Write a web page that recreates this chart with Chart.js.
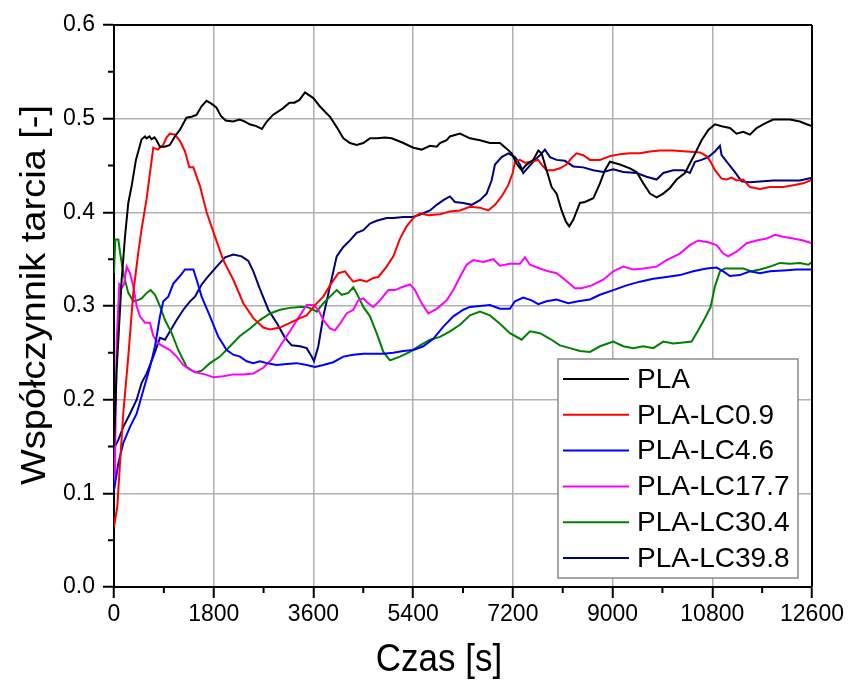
<!DOCTYPE html>
<html lang="pl">
<head>
    <meta charset="UTF-8">
    <title>Współczynnik tarcia</title>
    <script src="https://cdn.jsdelivr.net/npm/chart.js@4/dist/chart.umd.min.js"></script>
    <style>
        body{
            margin: 0;
            background: #ffffff;
        }
        .wykres{
            width: 849px;
            height: 682px;
        }
    </style>
</head>
<body>
    <div class="wykres">
        <canvas id="miCanvas"></canvas>
    </div>
    <script>
        // czas [s] i współczynnik tarcia dla każdej próbki
        const czasPLA = [0,30,48,138,200,258,318,396,498,560,588,640,678,730,768,828,918,1008,1098,1188,1308,1400,1488,1578,1668,1758,1848,1930,2016,2148,2268,2358,2448,2568,2670,2748,2868,3048,3168,3258,3348,3448,3598,3718,3899,4020,4140,4260,4380,4500,4621,4741,4892,5012,5102,5223,5403,5554,5704,5825,5884,6005,6064,6245,6425,6606,6786,6967,7087,7178,7268,7358,7448,7569,7659,7719,7809,7900,7990,8080,8158,8218,8291,8411,8501,8652,8772,8862,8953,9133,9313,9434,9554,9675,9795,9915,10036,10156,10306,10457,10607,10728,10848,10968,11118,11239,11359,11480,11600,11751,11901,12202,12382,12503,12600];
        const tarciePLA = [0.15,0.2,0.232,0.328,0.375,0.41,0.428,0.456,0.478,0.481,0.479,0.481,0.478,0.48,0.477,0.47,0.47,0.472,0.481,0.488,0.501,0.502,0.504,0.513,0.519,0.516,0.512,0.503,0.498,0.497,0.499,0.497,0.494,0.492,0.489,0.496,0.504,0.511,0.517,0.517,0.52,0.528,0.522,0.513,0.502,0.491,0.479,0.474,0.472,0.474,0.479,0.479,0.48,0.479,0.477,0.474,0.469,0.467,0.471,0.47,0.474,0.477,0.481,0.484,0.479,0.477,0.474,0.474,0.468,0.463,0.452,0.445,0.451,0.456,0.466,0.463,0.445,0.427,0.42,0.402,0.39,0.385,0.392,0.41,0.411,0.415,0.431,0.445,0.454,0.451,0.447,0.443,0.431,0.42,0.416,0.42,0.426,0.435,0.442,0.459,0.477,0.488,0.494,0.492,0.49,0.484,0.486,0.483,0.49,0.495,0.499,0.499,0.497,0.494,0.492];

        const czasLC09 = [0,60,108,168,258,348,438,498,588,709,789,889,950,1011,1101,1191,1282,1360,1432,1552,1672,1823,1973,2154,2334,2515,2695,2816,2996,3176,3357,3478,3628,3779,3899,4050,4170,4260,4320,4441,4561,4681,4772,4922,5042,5163,5283,5403,5524,5674,5885,6064,6245,6425,6606,6756,6877,6997,7117,7196,7238,7328,7418,7539,7659,7719,7809,7930,8050,8170,8261,8351,8471,8592,8772,8953,9133,9313,9494,9675,9855,10096,10337,10577,10697,10770,10848,10968,11059,11149,11239,11359,11480,11660,11841,12082,12262,12443,12600];
        const tarcieLC09 = [0.064,0.086,0.132,0.186,0.246,0.314,0.357,0.382,0.414,0.469,0.467,0.472,0.48,0.484,0.483,0.476,0.465,0.448,0.448,0.428,0.4,0.374,0.349,0.328,0.303,0.287,0.277,0.275,0.277,0.282,0.287,0.29,0.301,0.31,0.322,0.335,0.337,0.33,0.326,0.328,0.326,0.33,0.331,0.342,0.353,0.372,0.385,0.394,0.399,0.397,0.398,0.401,0.402,0.406,0.405,0.402,0.408,0.417,0.429,0.442,0.454,0.456,0.453,0.454,0.456,0.451,0.445,0.445,0.447,0.451,0.458,0.463,0.461,0.456,0.456,0.46,0.462,0.463,0.463,0.465,0.466,0.466,0.465,0.464,0.46,0.454,0.445,0.436,0.435,0.437,0.434,0.435,0.427,0.425,0.427,0.427,0.429,0.431,0.435];

        const czasLC46 = [0,78,168,289,409,529,650,740,830,890,980,1071,1191,1282,1372,1432,1492,1582,1733,1883,2034,2154,2274,2395,2515,2635,2756,2936,3117,3297,3478,3628,3779,3959,4140,4320,4501,4681,4862,5042,5223,5403,5584,5764,5945,6125,6306,6425,6606,6786,6967,7147,7238,7388,7539,7659,7809,7990,8201,8381,8592,8772,9013,9253,9494,9735,9975,10216,10457,10697,10878,10998,11118,11299,11480,11660,11841,12082,12322,12600];
        const tarcieLC46 = [0.103,0.132,0.154,0.171,0.185,0.21,0.235,0.257,0.289,0.305,0.31,0.324,0.332,0.339,0.339,0.339,0.328,0.31,0.289,0.267,0.253,0.248,0.246,0.241,0.239,0.241,0.239,0.237,0.238,0.239,0.237,0.235,0.237,0.24,0.246,0.248,0.249,0.249,0.249,0.25,0.252,0.253,0.257,0.265,0.278,0.289,0.296,0.299,0.3,0.301,0.297,0.297,0.305,0.309,0.306,0.302,0.305,0.307,0.303,0.305,0.307,0.312,0.317,0.322,0.326,0.329,0.331,0.333,0.337,0.34,0.341,0.337,0.332,0.333,0.337,0.335,0.337,0.338,0.339,0.339];

        const czasLC177 = [0,18,48,96,138,180,229,289,349,409,469,560,650,710,800,890,1011,1131,1252,1372,1492,1643,1793,1973,2154,2334,2515,2695,2846,2996,3176,3357,3478,3598,3688,3779,3899,3989,4080,4200,4320,4411,4501,4591,4681,4802,4952,5072,5193,5343,5433,5554,5674,5825,6005,6125,6245,6366,6486,6666,6847,6967,7147,7328,7418,7509,7689,7840,7990,8140,8321,8441,8622,8832,9013,9193,9374,9554,9795,9975,10216,10396,10547,10727,10878,10998,11088,11239,11420,11600,11781,11931,12082,12262,12443,12600];
        const tarcieLC177 = [0.11,0.132,0.264,0.323,0.319,0.323,0.342,0.335,0.321,0.3,0.289,0.282,0.282,0.268,0.26,0.257,0.253,0.246,0.237,0.232,0.229,0.227,0.224,0.225,0.227,0.227,0.228,0.234,0.243,0.257,0.273,0.29,0.301,0.301,0.296,0.285,0.276,0.274,0.281,0.292,0.296,0.306,0.308,0.303,0.299,0.306,0.317,0.317,0.32,0.323,0.317,0.303,0.292,0.297,0.306,0.317,0.331,0.344,0.349,0.347,0.35,0.343,0.345,0.345,0.352,0.344,0.34,0.337,0.335,0.328,0.319,0.319,0.322,0.328,0.337,0.342,0.339,0.34,0.342,0.349,0.356,0.365,0.37,0.368,0.365,0.356,0.353,0.358,0.367,0.37,0.372,0.376,0.374,0.372,0.37,0.367];

        const czasLC304 = [0,24,78,120,180,258,349,421,499,590,662,740,830,920,1041,1161,1312,1462,1582,1733,1913,2094,2274,2455,2635,2816,2996,3176,3357,3478,3598,3658,3779,3899,4020,4110,4230,4320,4411,4501,4621,4741,4862,4982,5163,5343,5524,5704,5885,6065,6245,6425,6606,6786,6967,7147,7358,7509,7689,7870,8050,8231,8411,8592,8772,9013,9193,9374,9554,9735,9915,10096,10276,10427,10547,10667,10770,10848,10938,11029,11179,11360,11510,11660,11841,12022,12202,12383,12533,12600];
        const tarcieLC304 = [0.335,0.371,0.371,0.353,0.332,0.314,0.305,0.306,0.308,0.314,0.317,0.312,0.3,0.285,0.271,0.253,0.235,0.229,0.231,0.239,0.246,0.257,0.268,0.276,0.285,0.292,0.296,0.298,0.299,0.299,0.296,0.294,0.303,0.31,0.317,0.312,0.314,0.32,0.31,0.299,0.289,0.271,0.251,0.242,0.246,0.251,0.258,0.264,0.267,0.273,0.28,0.29,0.294,0.29,0.281,0.271,0.264,0.273,0.271,0.265,0.258,0.255,0.252,0.251,0.257,0.262,0.257,0.255,0.257,0.255,0.262,0.26,0.261,0.262,0.274,0.287,0.299,0.321,0.337,0.34,0.34,0.34,0.337,0.339,0.342,0.346,0.345,0.346,0.344,0.347];

        const czasLC398 = [0,78,168,289,409,499,590,710,830,920,1011,1131,1252,1372,1462,1582,1703,1853,2004,2154,2304,2425,2515,2635,2786,2936,3087,3207,3357,3478,3568,3610,3688,3779,3899,4020,4140,4260,4380,4501,4621,4741,4922,5042,5223,5403,5584,5704,5825,5945,6064,6155,6305,6456,6606,6726,6816,6877,6997,7117,7238,7328,7388,7478,7599,7689,7779,7870,7990,8140,8291,8471,8652,8832,9013,9193,9434,9614,9795,9915,10096,10276,10397,10487,10607,10728,10848,10938,10968,11088,11209,11329,11480,11660,11901,12142,12383,12600];
        const tarcieLC398 = [0.148,0.157,0.171,0.185,0.2,0.218,0.228,0.246,0.266,0.264,0.273,0.285,0.296,0.305,0.31,0.323,0.332,0.342,0.352,0.355,0.353,0.348,0.337,0.318,0.296,0.282,0.266,0.258,0.257,0.255,0.246,0.241,0.257,0.289,0.321,0.353,0.363,0.37,0.378,0.381,0.388,0.391,0.394,0.394,0.395,0.395,0.399,0.402,0.408,0.413,0.417,0.411,0.41,0.408,0.413,0.42,0.434,0.451,0.459,0.463,0.459,0.451,0.442,0.448,0.456,0.461,0.467,0.459,0.456,0.455,0.449,0.448,0.445,0.443,0.446,0.443,0.442,0.438,0.435,0.442,0.445,0.445,0.442,0.454,0.456,0.459,0.465,0.471,0.461,0.452,0.443,0.433,0.432,0.433,0.434,0.434,0.434,0.437];

        const etykiety = ["PLA", "PLA-LC0.9", "PLA-LC4.6", "PLA-LC17.7", "PLA-LC30.4", "PLA-LC39.8"];
        const kolory = ["#000000", "#ff0000", "#0000ff", "#ff00ff", "#008000", "#000080"];
        const serieCzas = [czasPLA, czasLC09, czasLC46, czasLC177, czasLC304, czasLC398];
        const serieTarcie = [tarciePLA, tarcieLC09, tarcieLC46, tarcieLC177, tarcieLC304, tarcieLC398];

        const tytulX = "Czas [s]";
        const tytulY = "Współczynnik tarcia [-]";

        const czcionka = "'Liberation Sans', Arial, sans-serif";
        const jestGlowny = (v, krok) => Math.abs(v / krok - Math.round(v / krok)) < 1e-6;

        const zbiory = etykiety.map((nazwa, i) => ({
            label: nazwa,
            data: serieCzas[i].map((t, j) => ({x: t, y: serieTarcie[i][j]})),
            borderColor: kolory[i],
            backgroundColor: kolory[i],
            borderWidth: 2,
            pointRadius: 0,
            tension: 0,
            fill: false
        }));

        // ramka wykresu, krótkie podziałki, tytuły osi i legenda w ramce
        const ramka = {
            id: "ramka",
            afterDraw(chart){
                const ctx = chart.ctx;
                const a = chart.chartArea;
                const sx = chart.scales.x, sy = chart.scales.y;
                ctx.save();
                ctx.strokeStyle = "#000";
                ctx.lineWidth = 2;
                ctx.beginPath();
                ctx.moveTo(a.left, a.top); ctx.lineTo(a.right, a.top);
                ctx.moveTo(a.right, a.top); ctx.lineTo(a.right, a.bottom);
                sx.ticks.forEach(t => {
                    if(!jestGlowny(t.value, 1800)){
                        const px = sx.getPixelForValue(t.value);
                        ctx.moveTo(px, a.bottom); ctx.lineTo(px, a.bottom + 6);
                    }
                });
                sy.ticks.forEach(t => {
                    if(!jestGlowny(t.value, 0.1)){
                        const py = sy.getPixelForValue(t.value);
                        ctx.moveTo(a.left, py); ctx.lineTo(a.left - 6, py);
                    }
                });
                ctx.stroke();

                // tytuły osi, lekko zwężone
                ctx.fillStyle = "#000";
                ctx.font = "38px " + czcionka;
                ctx.textAlign = "center";
                ctx.textBaseline = "middle";
                ctx.save();
                ctx.translate(439, 661);
                ctx.scale(0.92, 1);
                ctx.fillText(tytulX, 0, 0);
                ctx.restore();
                ctx.save();
                ctx.translate(35, 295);
                ctx.scale(0.92, 1);
                ctx.rotate(-Math.PI / 2);
                ctx.fillText(tytulY, 0, 0);
                ctx.restore();

                // legenda
                const lx = a.right - 254, ly = a.top + 334, lw = 240, lh = 219;
                ctx.fillStyle = "#fff";
                ctx.fillRect(lx, ly, lw, lh);
                ctx.strokeStyle = "#8a8a8a";
                ctx.lineWidth = 1.5;
                ctx.strokeRect(lx, ly, lw, lh);
                ctx.font = "28px " + czcionka;
                ctx.textBaseline = "middle";
                ctx.textAlign = "left";
                chart.data.datasets.forEach((ds, i) => {
                    const y = ly + 20 + i * 35.8;
                    ctx.strokeStyle = ds.borderColor;
                    ctx.lineWidth = 2;
                    ctx.beginPath();
                    ctx.moveTo(lx + 5, y); ctx.lineTo(lx + 71, y);
                    ctx.stroke();
                    ctx.fillStyle = "#000";
                    ctx.fillText(ds.label, lx + 79, y + 1);
                });
                ctx.restore();
            }
        };

        new Chart(document.getElementById("miCanvas"), {
            type: "line",
            data: {datasets: zbiory},
            plugins: [ramka],
            options: {
                responsive: true,
                maintainAspectRatio: false,
                animation: false,
                layout: {padding: {top: 25, right: 37, left: 0, bottom: 0}},
                plugins: {
                    legend: {display: false},
                    tooltip: {enabled: false}
                },
                scales: {
                    x: {
                        type: "linear",
                        min: 0,
                        max: 12600,
                        afterFit(s){ s.height = 95; },
                        ticks: {
                            stepSize: 900,
                            autoSkip: false,
                            maxRotation: 0,
                            padding: 3,
                            color: "#000",
                            font: {family: czcionka, size: 23},
                            callback: v => jestGlowny(v, 1800) ? String(v) : ""
                        },
                        grid: {
                            color: c => (c.tick && jestGlowny(c.tick.value, 1800)) ? "#b0b0b0" : "transparent",
                            lineWidth: 1.5,
                            tickColor: c => (c.tick && jestGlowny(c.tick.value, 1800)) ? "#000" : "transparent",
                            tickLength: 11,
                            tickWidth: 2
                        },
                        border: {color: "#000", width: 2}
                    },
                    y: {
                        min: 0,
                        max: 0.6,
                        afterFit(s){ s.width = 114; },
                        ticks: {
                            stepSize: 0.05,
                            autoSkip: false,
                            padding: 8,
                            color: "#000",
                            font: {family: czcionka, size: 23},
                            callback: v => jestGlowny(v, 0.1) ? v.toFixed(1) : ""
                        },
                        grid: {
                            color: c => (c.tick && jestGlowny(c.tick.value, 0.1)) ? "#b0b0b0" : "transparent",
                            lineWidth: 1.5,
                            tickColor: c => (c.tick && jestGlowny(c.tick.value, 0.1)) ? "#000" : "transparent",
                            tickLength: 11,
                            tickWidth: 2
                        },
                        border: {color: "#000", width: 2}
                    }
                }
            }
        });
    </script>
</body>
</html>
